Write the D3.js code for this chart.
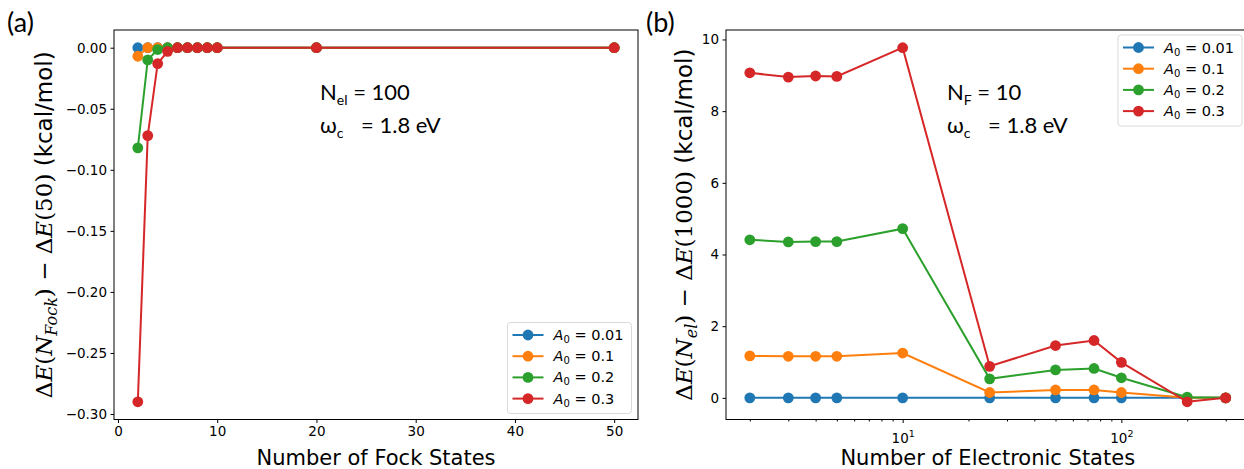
<!DOCTYPE html>
<html>
<head>
<meta charset="utf-8">
<script src="https://cdn.jsdelivr.net/npm/d3@7"></script>
<style>
  body { margin: 0; background: #fff; }
  svg { display: block; }
  .tick text { font-family: "DejaVu Sans", sans-serif; font-size: 13.5px; fill: #000; }
  .domain { display: none; }
</style>
</head>
<body>
<div id="chart"></div>
<script>
// Data
const seriesNames = ['0.01', '0.1', '0.2', '0.3'];
const colors = ['#1f77b4', '#ff7f0e', '#2ca02c', '#d62728'];

// (a) convergence with number of Fock states
const fockStates = [2, 3, 4, 5, 6, 7, 8, 9, 10, 20, 50];
const fockA001 = [0, 0, 0, 0, 0, 0, 0, 0, 0, 0, 0];
const fockA01 = [-0.007, 0, 0, 0, 0, 0, 0, 0, 0, 0, 0];
const fockA02 = [-0.082, -0.010, -0.0015, 0, 0, 0, 0, 0, 0, 0, 0];
const fockA03 = [-0.290, -0.072, -0.013, -0.003, 0, 0, 0, 0, 0, 0, 0];
const fockTicks = [0, 10, 20, 30, 40, 50];
const fockYTicks = [0, -0.05, -0.10, -0.15, -0.20, -0.25, -0.30];

// (b) convergence with number of electronic states
const elStates = [2, 3, 4, 5, 10, 25, 50, 75, 100, 200, 300];
const elA001 = [0, 0, 0, 0, 0, 0, 0, 0, 0, 0, 0];
const elA01 = [1.17, 1.16, 1.16, 1.16, 1.25, 0.15, 0.22, 0.22, 0.15, 0.0, 0];
const elA02 = [4.41, 4.35, 4.36, 4.36, 4.72, 0.53, 0.78, 0.82, 0.56, 0.02, 0];
const elA03 = [9.07, 8.95, 8.98, 8.97, 9.77, 0.88, 1.46, 1.60, 0.99, -0.11, 0];
const elMajorTicks = [10, 100];
const elMinorTicks = [2, 3, 4, 5, 6, 7, 8, 9, 20, 30, 40, 50, 60, 70, 80, 90, 200, 300];
const elYTicks = [0, 2, 4, 6, 8, 10];

const W = 1244, H = 469;
const plotTop = 30, plotBottom = 419.5;

const svg = d3.select('#chart').append('svg')
  .attr('width', W).attr('height', H);

function padDomain(lo, hi) {
  const m = (hi - lo) * 0.05;
  return [lo - m, hi + m];
}

function drawSeries(g, x, y, xs, ys, color) {
  const line = d3.line().x((d, i) => x(xs[i])).y(d => y(d));
  g.append('path').datum(ys)
    .attr('d', line)
    .attr('fill', 'none')
    .attr('stroke', color)
    .attr('stroke-width', 2);
  g.selectAll(null).data(ys).enter().append('circle')
    .attr('cx', (d, i) => x(xs[i]))
    .attr('cy', d => y(d))
    .attr('r', 5.4)
    .attr('fill', color);
}

function drawLegend(g, lx, ly) {
  g.append('rect')
    .attr('x', lx).attr('y', ly)
    .attr('width', 124).attr('height', 91)
    .attr('rx', 3)
    .attr('fill', '#fff').attr('fill-opacity', 0.8)
    .attr('stroke', '#d9d9d9').attr('stroke-width', 1);
  seriesNames.forEach((name, i) => {
    const yy = ly + 12.5 + i * 21.2;
    g.append('line')
      .attr('x1', lx + 5).attr('x2', lx + 36)
      .attr('y1', yy).attr('y2', yy)
      .attr('stroke', colors[i]).attr('stroke-width', 2);
    g.append('circle')
      .attr('cx', lx + 20.5).attr('cy', yy).attr('r', 5.4)
      .attr('fill', colors[i]);
    const t = g.append('text')
      .attr('x', lx + 46).attr('y', yy + 5)
      .attr('font-family', 'DejaVu Sans, sans-serif')
      .attr('font-size', 14.5);
    t.append('tspan').attr('font-style', 'italic').text('A');
    t.append('tspan').attr('font-size', 10).attr('dy', 3).text('0');
    t.append('tspan').attr('dy', -3).text(' = ' + name);
  });
}

function frame(g, x0, x1) {
  g.append('rect')
    .attr('x', x0).attr('y', plotTop)
    .attr('width', x1 - x0).attr('height', plotBottom - plotTop)
    .attr('fill', 'none').attr('stroke', '#000').attr('stroke-width', 1);
}

function annotation(g, x, y, sub1, main1, rest1) {
  const font = 'Lato, "Open Sans", sans-serif';
  const t1 = g.append('text').attr('x', x).attr('y', y)
    .attr('font-family', font).attr('font-size', 22).attr('fill', '#000');
  t1.append('tspan').text(main1);
  t1.append('tspan').attr('font-size', 14).attr('dy', 5).text(sub1);
  t1.append('tspan').attr('dy', -5).text(rest1);
  const t2 = g.append('text').attr('x', x).attr('y', y + 33)
    .attr('font-family', font).attr('font-size', 22).attr('fill', '#000')
    .attr('xml:space', 'preserve');
  t2.append('tspan').text('\u03c9');
  t2.append('tspan').attr('font-size', 14).attr('dy', 5).text('c');
  t2.append('tspan').attr('dy', -5).attr('dx', 12).text(' = 1.8 eV');
}

function yLabel(g, cx, subText, refText) {
  const t = g.append('text')
    .attr('transform', `translate(${cx},${(plotTop + plotBottom) / 2}) rotate(-90)`)
    .attr('text-anchor', 'middle')
    .attr('font-family', 'DejaVu Serif, serif').attr('font-size', 23);
  t.append('tspan').text('\u0394');
  t.append('tspan').attr('font-style', 'italic').text('E');
  t.append('tspan').text('(');
  t.append('tspan').attr('font-style', 'italic').text('N');
  t.append('tspan').attr('font-style', 'italic').attr('font-size', 16).attr('dy', 5).text(subText);
  t.append('tspan').attr('dy', -5).text(') \u2212 \u0394');
  t.append('tspan').attr('font-style', 'italic').text('E');
  t.append('tspan').text('(' + refText + ')');
  t.append('tspan').attr('font-family', 'DejaVu Sans, sans-serif').text(' (kcal/mol)');
}

// ---------- Panel (a) ----------
const ga = svg.append('g');
const ax0 = 114, ax1 = 638;
const xa = d3.scaleLinear().domain(padDomain(2, 50)).range([ax0, ax1]);
const fockAll = [fockA001, fockA01, fockA02, fockA03];
const yaExt = d3.extent(fockAll.flat());
const ya = d3.scaleLinear().domain(padDomain(yaExt[0], yaExt[1])).range([plotBottom, plotTop]);

fockAll.forEach((s, i) => drawSeries(ga, xa, ya, fockStates, s, colors[i]));

ga.append('g').attr('transform', `translate(0,${plotBottom})`)
  .call(d3.axisBottom(xa).tickValues(fockTicks).tickSize(3.5).tickPadding(3.5).tickFormat(d3.format('d')));
ga.append('g').attr('transform', `translate(${ax0},0)`)
  .call(d3.axisLeft(ya).tickValues(fockYTicks).tickSize(3.5).tickPadding(3.5)
    .tickFormat(d => d3.format('.2f')(d).replace('-', '\u2212')));
frame(ga, ax0, ax1);
drawLegend(ga, 507.5, 322.5);

ga.append('text')
  .attr('x', (ax0 + ax1) / 2).attr('y', 465)
  .attr('text-anchor', 'middle')
  .attr('font-family', 'DejaVu Sans, sans-serif').attr('font-size', 21)
  .text('Number of Fock States');

yLabel(ga, 52, 'Fock', '50');

annotation(ga, 320, 100, 'el', 'N', ' = 100');

ga.append('text').attr('x', 7).attr('y', 32)
  .attr('font-family', 'Lato, sans-serif').attr('font-size', 27).text('(a)');

// ---------- Panel (b) ----------
const gb = svg.append('g');
const bx0 = 726, bx1 = 1249.5;
const xb = d3.scaleLog()
  .domain(padDomain(Math.log10(2), Math.log10(300)).map(v => Math.pow(10, v)))
  .range([bx0, bx1]);
const elAll = [elA001, elA01, elA02, elA03];
const ybExt = d3.extent(elAll.flat());
const yb = d3.scaleLinear().domain(padDomain(ybExt[0], ybExt[1])).range([plotBottom, plotTop]);

elAll.forEach((s, i) => drawSeries(gb, xb, yb, elStates, s, colors[i]));

const xbAxis = gb.append('g').attr('transform', `translate(0,${plotBottom})`)
  .call(d3.axisBottom(xb).tickValues(elMajorTicks).tickSize(3.5).tickPadding(3.5).tickFormat(''));
xbAxis.selectAll('.tick').each(function(d) {
  const t = d3.select(this).append('text')
    .attr('y', 23).attr('fill', '#000').attr('text-anchor', 'middle');
  t.append('tspan').text('10');
  t.append('tspan').attr('font-size', 9.5).attr('dy', -6).text(Math.round(Math.log10(d)));
});
gb.append('g').attr('transform', `translate(0,${plotBottom})`)
  .call(d3.axisBottom(xb).tickValues(elMinorTicks).tickSize(2).tickFormat(''));
gb.append('g').attr('transform', `translate(${bx0},0)`)
  .call(d3.axisLeft(yb).tickValues(elYTicks).tickSize(3.5).tickPadding(3.5).tickFormat(d3.format('d')));
frame(gb, bx0, bx1);
drawLegend(gb, 1118, 35);

gb.append('text')
  .attr('x', (bx0 + bx1) / 2).attr('y', 465)
  .attr('text-anchor', 'middle')
  .attr('font-family', 'DejaVu Sans, sans-serif').attr('font-size', 21)
  .text('Number of Electronic States');

yLabel(gb, 692, 'el', '1000');

annotation(gb, 947, 100, 'F', 'N', ' = 10');

gb.append('text').attr('x', 646).attr('y', 32)
  .attr('font-family', 'Lato, sans-serif').attr('font-size', 27).text('(b)');
</script>
</body>
</html>
